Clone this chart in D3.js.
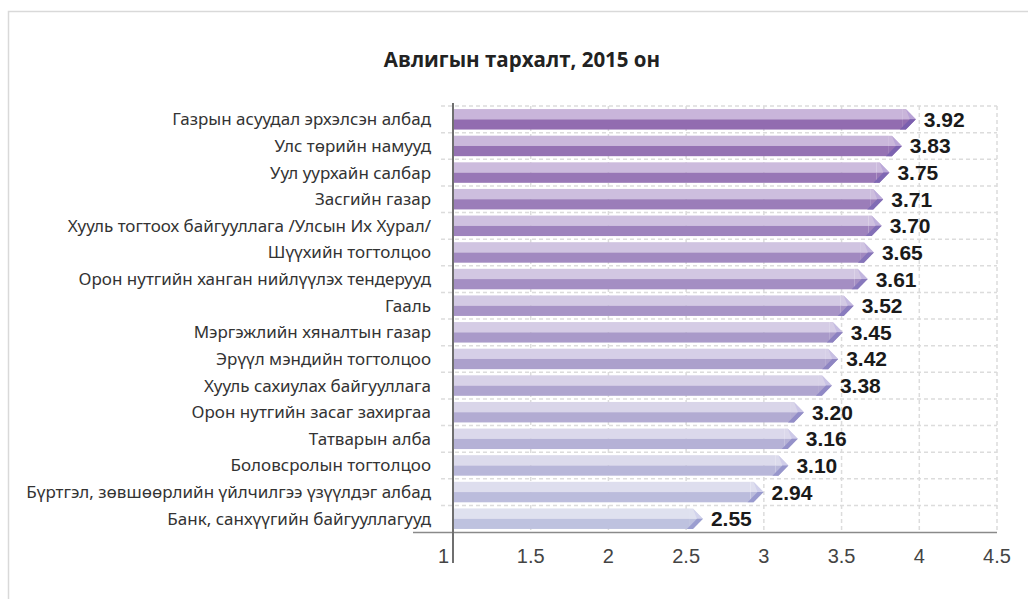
<!DOCTYPE html>
<html><head><meta charset="utf-8">
<script src="https://cdn.jsdelivr.net/npm/d3@7"></script>
<style>body{margin:0;background:#fff}</style>
</head><body>
<svg id="c" width="1028" height="599"></svg>
<script>
const title = "Авлигын тархалт, 2015 он";
const categories = [
  "Газрын асуудал эрхэлсэн албад",
  "Улс төрийн намууд",
  "Уул уурхайн салбар",
  "Засгийн газар",
  "Хууль тогтоох байгууллага /Улсын Их Хурал/",
  "Шүүхийн тогтолцоо",
  "Орон нутгийн ханган нийлүүлэх тендерууд",
  "Гааль",
  "Мэргэжлийн хяналтын газар",
  "Эрүүл мэндийн тогтолцоо",
  "Хууль сахиулах байгууллага",
  "Орон нутгийн засаг захиргаа",
  "Татварын алба",
  "Боловсролын тогтолцоо",
  "Бүртгэл, зөвшөөрлийн үйлчилгээ үзүүлдэг албад",
  "Банк, санхүүгийн байгууллагууд"
];
const values = [3.92, 3.83, 3.75, 3.71, 3.70, 3.65, 3.61, 3.52, 3.45, 3.42, 3.38, 3.20, 3.16, 3.10, 2.94, 2.55];
const ticks = [1, 1.5, 2, 2.5, 3, 3.5, 4, 4.5];

const svg = d3.select("#c");
// frame
svg.append("rect").attr("x",8.5).attr("y",11.5).attr("width",1040).attr("height",620)
  .attr("fill","none").attr("stroke","#d9d9d9").attr("stroke-width",1.5);

svg.append("text").attr("x",522).attr("y",67).attr("text-anchor","middle")
  .attr("font-family","Open Sans").attr("font-weight","bold").attr("font-size",20.5)
  .attr("fill","#222").text(title);

const x = d3.scaleLinear().domain([1,4.5]).range([453,997]);
const y = d3.scaleBand().domain(categories).range([106,532]).paddingInner(0).paddingOuter(0);
const bw = y.bandwidth();

const t = d3.scaleLinear().domain([0, categories.length-1]).range([0,1]);
const lightC = d3.interpolateRgb("#c9b5da","#dfe1ef");
const darkC = d3.interpolateRgb("#926cb0","#bec2df");
const headL = d3.interpolateRgb("#b8a3d6","#d2d3ec");
const headD = d3.interpolateRgb("#7a5fae","#9b9ed0");

const g = svg.append("g");
// horizontal grid
g.selectAll(".hg").data(categories).enter().append("line")
  .attr("x1",441).attr("x2",997)
  .attr("y1",d=>y(d)).attr("y2",d=>y(d))
  .attr("stroke","#dcdcdc").attr("stroke-width",1.5).attr("stroke-dasharray","4,3");
// vertical grid
g.selectAll(".vg").data(ticks.slice(1)).enter().append("line")
  .attr("x1",d=>x(d)).attr("x2",d=>x(d))
  .attr("y1",106).attr("y2",532)
  .attr("stroke","#dcdcdc").attr("stroke-width",1.5).attr("stroke-dasharray","4,3");

// bars
const bh = 20.5;
categories.forEach((c,i)=>{
  const v = values[i];
  const top = y(c) + (bw-bh)/2, mid = top+bh/2, bot = top+bh;
  const xe = x(v) - 4, tip = x(v) + 9, x0 = x(1)+1;
  g.append("rect").attr("x",x0).attr("y",top).attr("width",xe-x0).attr("height",bh/2).attr("fill",lightC(t(i)));
  g.append("rect").attr("x",x0).attr("y",mid).attr("width",xe-x0).attr("height",bh/2).attr("fill",darkC(t(i)));
  g.append("path").attr("d",`M${xe},${top}L${tip-10},${top}L${tip},${mid}L${xe},${mid}Z`).attr("fill",lightC(t(i)));
  g.append("path").attr("d",`M${tip-10},${top}L${tip},${mid}L${tip-6},${mid}Z`).attr("fill",headL(t(i)));
  g.append("path").attr("d",`M${xe},${mid}L${tip},${mid}L${tip-10},${bot}L${xe},${bot}Z`).attr("fill",darkC(t(i)));
  g.append("path").attr("d",`M${tip-6},${mid}L${tip},${mid}L${tip-10},${bot}L${tip-16},${bot}Z`).attr("fill",headD(t(i)));
  g.append("text").attr("x",tip+8).attr("y",y(c)+bw/2).attr("dy","0.36em")
    .attr("font-family","Liberation Sans").attr("font-weight","bold").attr("font-size",21)
    .attr("fill","#1a1a1a").text(v.toFixed(2));
});

// category labels
g.selectAll(".cl").data(categories).enter().append("text")
  .attr("x",431).attr("y",d=>y(d)+bw/2).attr("dy","0.35em").attr("text-anchor","end")
  .attr("font-family","Noto Sans").attr("font-size",17).attr("fill","#333").text(d=>d);

// axes lines
g.append("line").attr("x1",413).attr("x2",997).attr("y1",532.5).attr("y2",532.5)
  .attr("stroke","#8a8a8a").attr("stroke-width",1.5);
g.append("line").attr("x1",453).attr("x2",453).attr("y1",103).attr("y2",563)
  .attr("stroke","#6f6f6f").attr("stroke-width",2);

// tick labels
g.selectAll(".tl").data(ticks).enter().append("text")
  .attr("x",d=>d===1? x(d)-4 : x(d)).attr("y",563)
  .attr("text-anchor",d=>d===1?"end":"middle")
  .attr("font-family","Liberation Sans").attr("font-size",20).attr("fill","#444")
  .text(d=>d);
</script>
</body></html>
